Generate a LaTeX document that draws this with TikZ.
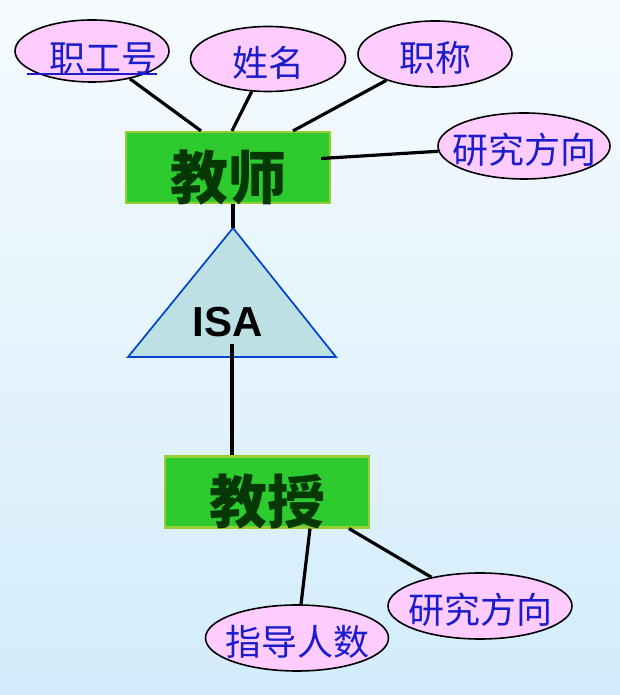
\documentclass[tikz,border=0pt]{standalone}
\usepackage{fontspec}
\newfontfamily\cjk{Noto Sans CJK SC}
\newfontfamily\latina{Liberation Sans}
\usetikzlibrary{positioning,shapes.geometric}
\definecolor{fundocima}{HTML}{F6FBFE}
\definecolor{fundobaixo}{HTML}{D3ECFB}
\definecolor{rosa}{HTML}{FFCCFF}
\definecolor{azul}{HTML}{1C1CCC}
\definecolor{verde}{HTML}{2ECB2E}
\definecolor{bordaverde}{HTML}{99CC33}
\definecolor{verdeescuro}{HTML}{063806}
\definecolor{triang}{HTML}{BCE0E4}
\definecolor{bordaazul}{HTML}{0044CC}
\newcommand{\centrado}[2]{\makebox[0pt]{\raisebox{#1}[0pt][0pt]{#2}}}
\newcommand{\sublinhado}[1]{\setbox0\hbox{#1}\rlap{\rule[-3pt]{\wd0}{1.6pt}}\box0}

\begin{document}
\begin{tikzpicture}
            [
                x=1pt, y=1pt,
                entidade/.style={rectangle, draw=bordaverde, line width=2.2pt, fill=verde,
                    minimum width=204pt, minimum height=71pt, inner sep=0pt,
                    text=verdeescuro, font=\cjk\bfseries\fontsize{58}{62}\selectfont},
                atributo/.style={ellipse, draw, line width=1.6pt, fill=rosa,
                    minimum height=66pt, inner sep=0pt,
                    text=azul, font=\cjk\fontsize{36}{40}\selectfont},
                ligacao/.style={line width=3.2pt},
            ]
            \shade[top color=fundocima, bottom color=fundobaixo] (0,0) rectangle (620,695);
            % entidades
            \node[entidade] (js) at (228,527.5) {\centrado{-32pt}{教师}};
            \node[entidade] (jsh) at (267,203) {\centrado{-32pt}{教授}};
            % atributos
            \node[atributo] (zgh) [minimum width=154pt, minimum height=62pt] at (92,644)
                {\centrado{-20.7pt}{\sublinhado{\hspace*{22pt}职工号}}};
            \node[atributo] (xm) [minimum width=155pt, minimum height=65pt] at (268,636) {\centrado{-18pt}{姓名}};
            \node[atributo] (zc) [minimum width=154pt] at (435,641) {\centrado{-18pt}{职称}};
            \node[atributo] (yjfx1) [minimum width=172pt] at (524,549) {\centrado{-18pt}{研究方向}};
            \node[atributo] (zdrs) [minimum width=183pt] at (297,57) {\centrado{-18pt}{指导人数}};
            \node[atributo] (yjfx2) [minimum width=184pt] at (480,89) {\centrado{-18pt}{研究方向}};
            % ISA
            \coordinate (topo) at (233,467);
            \draw[draw=bordaazul, line width=1.7pt, fill=triang] (topo) -- (336,338) -- (128,338) -- cycle;
            \node (isa) [inner sep=7pt, font=\latina\bfseries\fontsize{42}{46}\selectfont] at (228,373) {ISA};
            % ligacoes
            \draw[ligacao] (zgh) -- ([xshift=-27pt]js.north);
            \draw[ligacao] (xm) -- ([xshift=4pt]js.north);
            \draw[ligacao] (zc) -- ([xshift=65pt]js.north);
            \draw[ligacao] (yjfx1) -- ([xshift=-10pt,yshift=9pt]js.east);
            \draw[ligacao] (js.south -| topo) -- (topo);
            \draw[ligacao] ([xshift=4pt]isa.south) -- ([xshift=4pt]isa.south |- jsh.north);
            \draw[ligacao] ([xshift=43pt]jsh.south) -- (zdrs);
            \draw[ligacao] ([xshift=82pt]jsh.south) -- (yjfx2);
        \end{tikzpicture}
\end{document}
